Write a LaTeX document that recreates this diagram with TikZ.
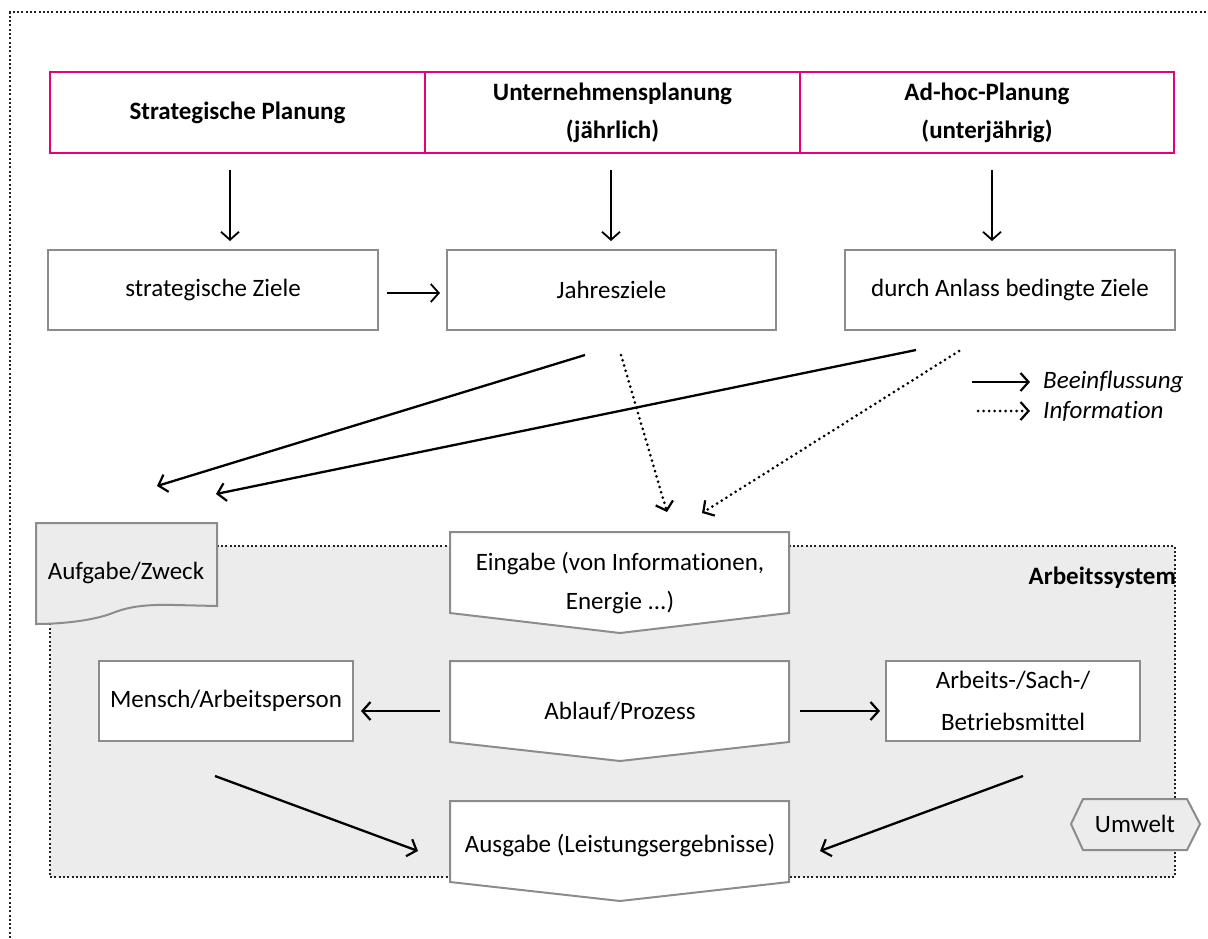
\documentclass[tikz,border=0pt]{standalone}
\usepackage{fontspec}
\setmainfont{Carlito}[Ligatures=NoCommon]
\usetikzlibrary{arrows.meta}
\definecolor{pinkc}{HTML}{E5007D}
\definecolor{boxgray}{HTML}{8C8C8C}
\definecolor{sysfill}{HTML}{ECECEC}
\definecolor{dotc}{HTML}{222222}
\begin{document}
\begin{tikzpicture}[x=1pt,y=-1pt,
  font=\fontsize{25pt}{40pt}\selectfont,
  hdr/.style={draw=pinkc, line width=2.2pt, minimum width=375pt, minimum height=81pt, inner sep=0pt, align=center, font=\fontsize{25pt}{38pt}\selectfont\bfseries},
  goal/.style={draw=boxgray, line width=2pt, fill=white, minimum width=330pt, minimum height=80pt, inner sep=0pt, align=center},
  elem/.style={draw=boxgray, line width=2pt, fill=white, minimum width=254pt, minimum height=80pt, inner sep=0pt, align=center, font=\fontsize{25pt}{42pt}\selectfont},
  chev/.style={draw=boxgray, line width=2pt, fill=white, line join=miter},
  grayshape/.style={draw=boxgray, line width=2pt, fill=sysfill},
  txt/.style={inner sep=0pt, align=center},
  arr/.style={-{Straight Barb[length=8pt,width=18pt,line width=2.2pt]}, line width=2.3pt},
  thinarr/.style={-{Straight Barb[length=8pt,width=18pt,line width=1.8pt]}, line width=1.8pt},
  dotarr/.style={-{Straight Barb[length=8pt,width=18pt,line width=2.2pt]}, line width=3pt, line cap=round, dash pattern=on 0pt off 5.5pt},
  outerdot/.style={draw=dotc, line width=2.4pt, dash pattern=on 2pt off 2.3pt},
  sysdot/.style={draw=dotc, line width=2.2pt, dash pattern=on 2pt off 2.3pt}
]
\path[use as bounding box] (0,0) rectangle (1208,938);

% outer frame
\draw[outerdot] (10,938) -- (10,12) -- (1208,12);

% header row
\node[hdr] (h1) at (237.5,112.5) {Strategische Planung};
\node[hdr] (h2) at (612.5,112.5) {Unternehmensplanung\\(jährlich)};
\node[hdr, minimum width=374pt] (h3) at (987,112.5) {Ad-hoc-Planung\\(unterjährig)};

% goals row
\node[goal] (z1) at (213,290) {strategische Ziele};
\node[goal, minimum width=329pt] (z2) at (611.5,290) {Jahresziele};
\node[goal] (z3) at (1010,290) {durch Anlass bedingte Ziele};

\coordinate (v1s) at (230,170); \coordinate (v1e) at (230,241);
\coordinate (v2s) at (611,170); \coordinate (v2e) at (611,241);
\coordinate (v3s) at (992,170); \coordinate (v3e) at (992,241);
\draw[thinarr] (v1s) -- (v1e);
\draw[thinarr] (v2s) -- (v2e);
\draw[thinarr] (v3s) -- (v3e);
\coordinate (hzs) at (387,293); \coordinate (hze) at (440,293);
\draw[thinarr] (hzs) -- (hze);

% legend
\coordinate (l1s) at (972,382); \coordinate (l1e) at (1030,382);
\coordinate (l2s) at (978,411); \coordinate (l2e) at (1030,411);
\draw[arr] (l1s) -- (l1e);
\draw[dotarr] (l2s) -- (l2e);
\node[txt, anchor=west, font=\fontsize{25pt}{30pt}\selectfont\itshape] (lg1) at (1043,382) {Beeinflussung};
\node[txt, anchor=west, font=\fontsize{25pt}{30pt}\selectfont\itshape] (lg2) at (1043,411) {Information};

% work system area
\path[fill=sysfill] (50,546) rectangle (1175,877);
\draw[sysdot] (50,546) rectangle (1175,877);
\node[txt, anchor=east, font=\fontsize{25pt}{30pt}\selectfont\bfseries] (as) at (1176,578) {Arbeitssystem};

% Aufgabe/Zweck document shape
\draw[grayshape] (36,523) -- (217,523) -- (217,606) -- (175,605)
  .. controls (140,604) and (125,608) .. (110,614)
  .. controls (90,621) and (60,624) .. (36,624) -- cycle;
\node[txt] (auf) at (126,573) {Aufgabe/Zweck};

% chevrons
\draw[chev] (450,532) -- (789,532) -- (789,613) -- (620,633) -- (450,613) -- cycle;
\node[txt, font=\fontsize{25pt}{39pt}\selectfont] (ein) at (620,583) {Eingabe (von Informationen,\\Energie ...)};
\draw[chev] (450,661) -- (789,661) -- (789,742) -- (620,761) -- (450,742) -- cycle;
\node[txt] (abl) at (620,711) {Ablauf/Prozess};
\draw[chev] (450,801) -- (789,801) -- (789,882) -- (620,901) -- (450,882) -- cycle;
\node[txt] (aus) at (620,845) {Ausgabe (Leistungsergebnisse)};

% elements
\node[elem] (men) at (226,701) {Mensch/Arbeitsperson};
\node[elem] (bm) at (1013,701) {Arbeits-/Sach-/\\Betriebsmittel};

% Umwelt hexagon
\draw[grayshape] (1071,824) -- (1083,799) -- (1187,799) -- (1200,824) -- (1187,850) -- (1083,850) -- cycle;
\node[txt] (umw) at (1135,824) {Umwelt};

% arrows from goals to system
\coordinate (a1s) at (585,355); \coordinate (a1e) at (157,486);
\coordinate (a2s) at (916,350); \coordinate (a2e) at (216,494);
\coordinate (d1s) at (621,355); \coordinate (d1e) at (667,512);
\coordinate (d2s) at (959,351); \coordinate (d2e) at (702,513);
\draw[arr] (a1s) -- (a1e);
\draw[arr] (a2s) -- (a2e);
\draw[dotarr] (d1s) -- (d1e);
\draw[dotarr] (d2s) -- (d2e);

% inner arrows
\coordinate (p1s) at (440,711); \coordinate (p1e) at (361,711);
\coordinate (p2s) at (800,711); \coordinate (p2e) at (880,711);
\coordinate (q1s) at (215,776); \coordinate (q1e) at (418,851);
\coordinate (q2s) at (1023,776); \coordinate (q2e) at (820,851);
\draw[arr] (p1s) -- (p1e);
\draw[arr] (p2s) -- (p2e);
\draw[arr] (q1s) -- (q1e);
\draw[arr] (q2s) -- (q2e);
\end{tikzpicture}
\end{document}
